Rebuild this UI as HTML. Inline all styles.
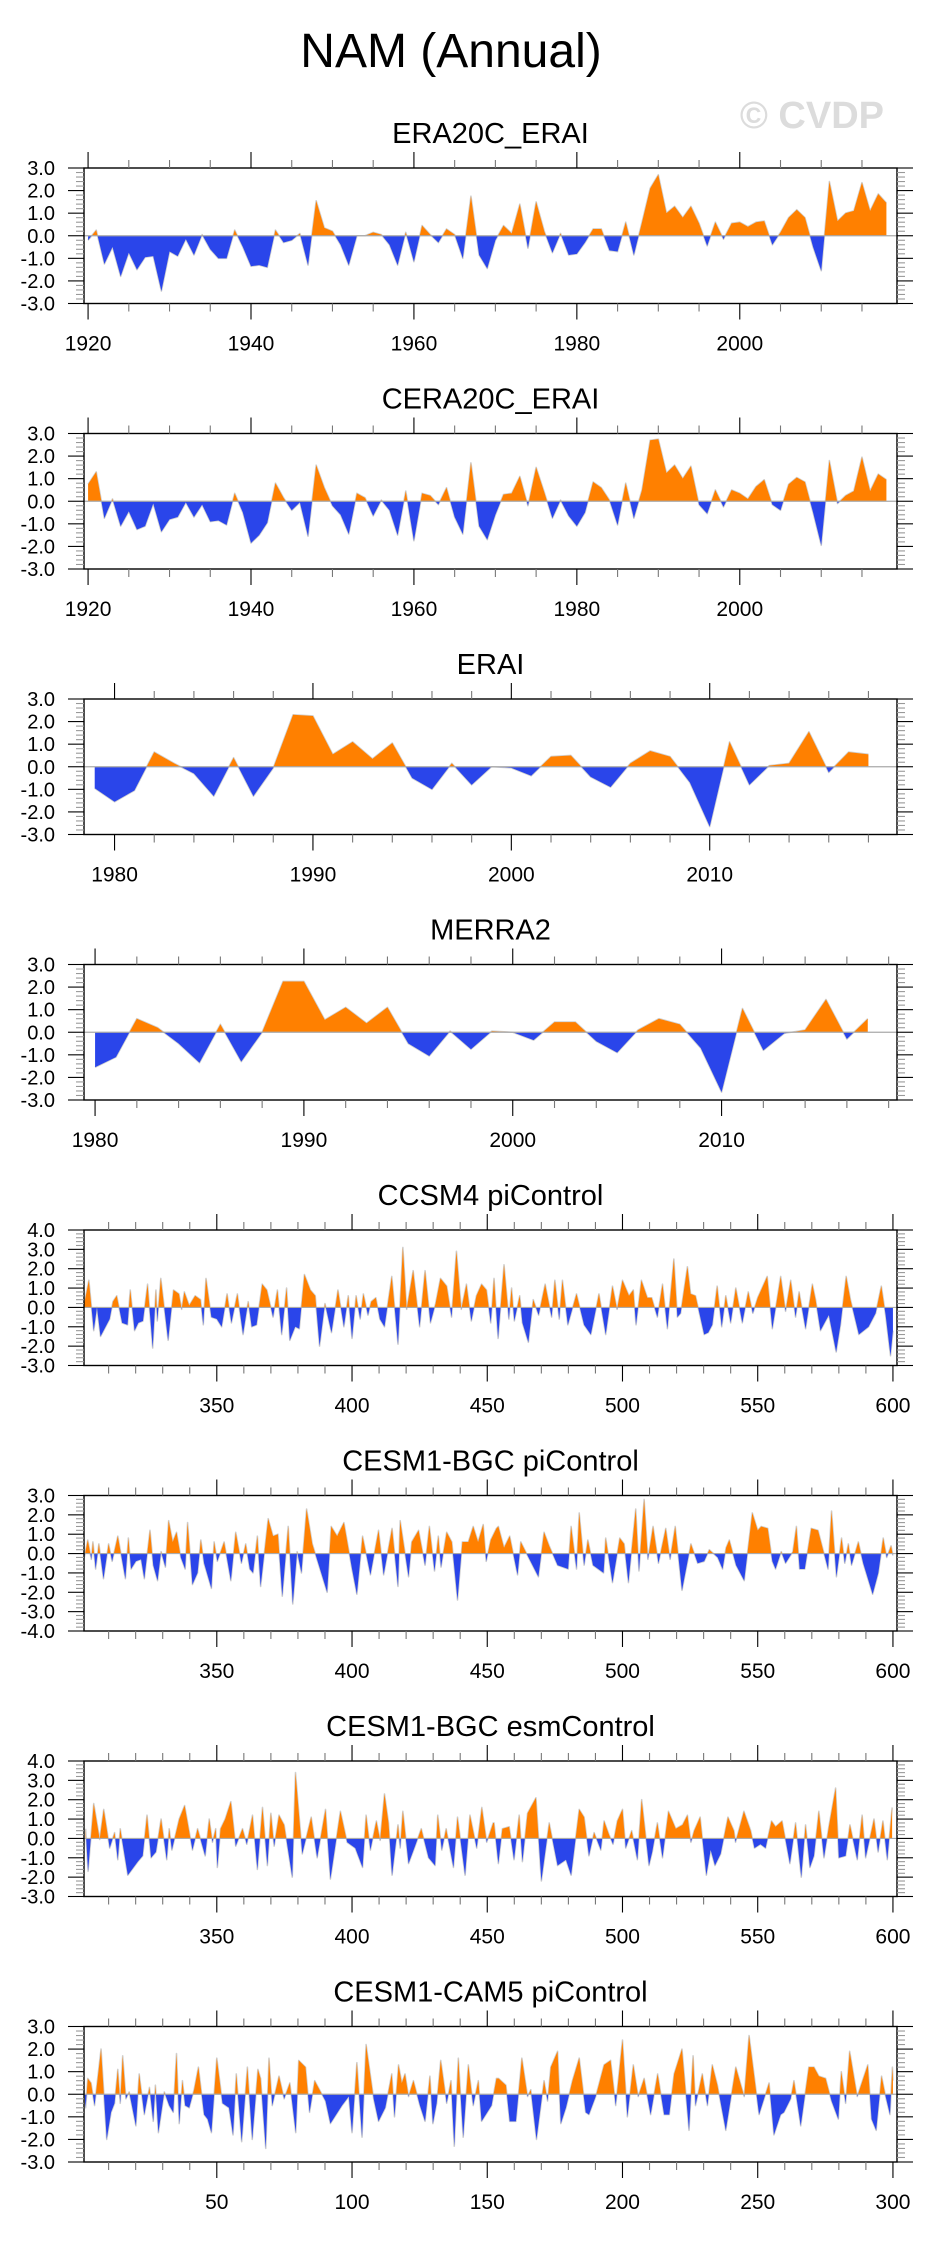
<!DOCTYPE html>
<html><head><meta charset="utf-8"><title>NAM (Annual)</title>
<style>
html,body{margin:0;padding:0;background:#fff;}
svg{display:block;font-family:"Liberation Sans",Arial,sans-serif;}
</style></head>
<body>
<svg id="chart" width="930" height="2241" viewBox="0 0 930 2241" xmlns="http://www.w3.org/2000/svg">
<text x="451" y="67" font-size="48" text-anchor="middle" fill="#000">NAM (Annual)</text>
<text x="884" y="128" font-size="38" font-weight="bold" text-anchor="end" fill="#dcdcdc">© CVDP</text>
</svg>
<script>
// ---------- data ----------
const era20cStart = 1920;
const era20cValues = [-0.2,0.25,-1.25,-0.5,-1.8,-0.75,-1.5,-0.95,-0.9,-2.45,-0.7,-0.9,-0.15,-0.85,0.05,-0.6,-1.0,-1.0,0.25,-0.5,
 -1.35,-1.3,-1.4,0.25,-0.3,-0.2,0.1,-1.3,1.55,0.35,0.2,-0.4,-1.3,0.0,0.0,0.15,0.05,-0.4,-1.3,0.15,
 -1.15,0.45,0.05,-0.3,0.3,0.05,-1.0,1.75,-0.85,-1.45,-0.2,0.45,0.1,1.4,-0.55,1.5,0.2,-0.75,0.1,-0.85,
 -0.8,-0.3,0.3,0.3,-0.65,-0.7,0.6,-0.85,0.6,2.1,2.7,1.0,1.3,0.8,1.3,0.55,-0.45,0.6,-0.15,0.55,
 0.6,0.4,0.6,0.65,-0.4,0.15,0.8,1.15,0.8,-0.5,-1.55,2.4,0.65,1.0,1.1,2.35,1.1,1.85,1.45];
const cera20cStart = 1920;
const cera20cValues = [0.75,1.3,-0.75,0.1,-1.1,-0.45,-1.25,-1.1,-0.1,-1.35,-0.8,-0.7,-0.05,-0.7,-0.15,-0.9,-0.85,-1.05,0.35,-0.5,
 -1.85,-1.5,-0.95,0.8,0.15,-0.4,-0.05,-1.55,1.6,0.6,-0.2,-0.6,-1.45,0.35,0.15,-0.65,0.05,-0.4,-1.5,0.45,
 -1.75,0.35,0.25,-0.15,0.6,-0.7,-1.45,1.7,-1.1,-1.7,-0.6,0.3,0.35,1.1,-0.2,1.5,0.4,-0.75,0.05,-0.65,
 -1.1,-0.5,0.85,0.6,0.05,-1.05,0.8,-0.75,0.5,2.7,2.75,1.25,1.6,1.0,1.55,-0.15,-0.55,0.5,-0.25,0.5,
 0.35,0.1,0.65,0.95,-0.15,-0.4,0.75,1.05,0.85,-0.5,-1.95,1.8,-0.1,0.25,0.45,1.95,0.45,1.2,0.95];
const eraiStart = 1979;
const eraiValues = [-0.95,-1.55,-1.05,0.65,0.15,-0.3,-1.3,0.4,-1.3,-0.05,2.3,2.25,0.55,1.1,0.35,1.05,-0.5,-1.0,0.15,-0.8,
 0.0,-0.05,-0.4,0.45,0.5,-0.45,-0.9,0.15,0.7,0.45,-0.7,-2.65,1.1,-0.8,0.05,0.15,1.55,-0.25,0.65,0.55];
const merra2Start = 1980;
const merra2Values = [-1.55,-1.1,0.6,0.2,-0.5,-1.35,0.35,-1.3,0.0,2.25,2.25,0.55,1.1,0.4,1.1,-0.5,-1.05,0.05,-0.75,0.05,
 0.0,-0.35,0.45,0.45,-0.4,-0.9,0.1,0.6,0.35,-0.7,-2.65,1.05,-0.8,-0.05,0.1,1.45,-0.3,0.6];

const ccsm4Years = [301,302.7,304.5,305.7,307,310.4,311.6,313,315,317,318,319.6,321,322.7,324.4,326.3,327.5,328,329.3,332,334,336,337,338,339.8,342,344,345,346,348,350,351.8,353.8,355.4,357.6,359.7,361.6,362.9,364.7,366.8,368.5,370.8,372.4,374,375.8,377,379,380.5,382.4,384.6,386.4,388,390,392.4,394.8,397,398.6,400,401.5,403,404.2,405.9,407.1,408.8,410.3,412,414.7,417,418.8,420.2,422.6,425,427,429,430.9,432.7,435,436.8,438.6,440.4,442.3,444.1,446,447.9,449.7,451.3,452.5,454,456.2,458,459,460,462,463,465.2,467,469,471.4,473.8,475,476.6,477.8,479.8,483,485.8,488.3,491.3,493.8,496.3,498,500,502.4,504,505,507,509.2,510.8,512.9,514.8,516.6,519,520.3,521.5,524,525.2,527,530.2,531.7,533.2,535,536.7,538.2,540,541.9,544.3,546.5,548.2,550,553.5,555.4,558.5,560.3,562.2,564,565.3,567.7,570.2,571.4,573.2,575.1,576.3,579,580.6,582.7,584.3,587.4,591,593.6,595.7,597.3,599.1,600];
const ccsm4Values = [0.2,1.4,-1.2,0,-1.5,-0.6,0.3,0.6,-0.8,-0.9,0.9,-1.2,-0.8,-0.7,1.2,-2.1,0.9,-0.7,1.5,-1.7,0.9,0.7,-0.1,0.8,0.1,0.6,0.4,-0.9,1.5,-0.5,-0.6,-1.0,0.7,-0.8,0.7,-1.4,0.3,-1.0,-0.9,1.2,0.9,-0.5,0.9,-1.4,1.0,-1.7,-1.0,-1.1,1.7,0.9,0.6,-2.0,0.2,-1.3,0.9,-1.0,0.6,-1.6,0.6,-0.6,0.7,-0.4,0.3,0.5,-0.6,-1.0,1.6,-1.9,3.1,-0.1,1.9,-1.0,1.9,-0.8,0.2,1.5,1.1,-0.5,2.9,-0.1,1.2,-0.7,0.6,1.2,0.9,-0.8,1.5,-1.6,2.2,-0.6,1.0,-0.7,0.6,-0.8,-1.8,0.4,-0.4,1.2,-0.5,1.4,-0.6,1.4,-0.9,0.7,-0.9,-1.4,0.7,-1.4,1.1,-0.1,1.4,0.6,0.9,-0.9,1.4,0.5,0.5,-0.5,1.2,-1.1,2.5,-0.5,-0.3,2.1,0.7,0.6,-1.4,-1.3,-0.9,1.1,-1.0,0.6,-0.8,1.0,-0.8,0.8,-0.3,0.5,1.6,-1.1,1.6,-0.2,1.4,-0.5,0.8,-1.1,1.2,0.4,-1.2,-0.7,-0.4,-2.3,-0.9,1.6,0.4,-1.4,-1.0,-0.3,1.1,-0.4,-2.5,-1.2];

const bgcPiYears = [301,302.3,303.6,304.2,305.2,306.4,308.1,310,311.3,313.4,316.2,317.3,318.3,320.1,322,323.2,325.3,326.5,328.1,329.4,331,332.2,333.7,335.1,336.7,338.3,339.2,341,342.9,344.1,345.3,348,349,350.2,352.7,355.2,357,359.1,360.7,362.2,363.4,365,366.2,369,370.8,372.6,374.2,376.4,378.1,379.7,381.3,383.2,385.3,390.8,392.3,394.5,397,400,401.8,403.9,406.8,409.8,411.7,414.8,417,417.8,420.9,422.1,424.6,427,428.6,430.5,431.9,432.9,435,436.9,439,440.8,443,444.8,446.6,448.5,449.6,451.3,453.4,454.1,456.2,458.3,461.2,462.4,464.9,468.9,471,472.9,476,479.9,481,483,484,485.8,487.2,489.1,493,493.8,496.3,499,500.6,502.2,504.9,506.1,508,509.4,511.3,513.3,516,517.6,519.5,522,525.3,527.8,530.2,532.1,535.2,537,538.3,539.5,542,545,548,550,551.3,553.7,555.4,556.6,558.7,560.3,563,564.3,565.5,567.4,569.8,572.3,576,577.3,579.1,581,582.2,583.5,584.7,587.2,589,592.5,594.6,596.4,597.7,599.3,600];
const bgcPiValues = [-0.2,0.7,-0.3,0.6,-0.8,0.5,-1.3,0.5,-0.4,0.9,-1.3,0.8,-0.8,-0.4,-0.3,-1.3,1.2,-0.6,-1.4,0.1,-0.7,1.7,0.6,1.1,-0.2,-0.8,1.6,-1.6,-1.0,0.7,-0.5,-1.8,0.6,-0.4,0.6,-1.4,1.1,-0.5,0.5,-0.8,-1.0,0.9,-1.7,1.8,0.9,1.0,-2.2,1.4,-2.6,0.1,-1.0,2.3,0.5,-2.0,1.4,0.9,1.6,-0.8,-2.1,0.9,-1.1,1.2,-1.1,1.3,-1.7,1.7,-1.2,0.6,1.2,-0.6,1.4,-0.9,0.9,-0.7,1.1,0.6,-2.4,0.6,0.6,1.4,0.6,1.5,-0.4,0.7,1.3,1.4,0.3,0.9,-1.1,0.6,-0.1,-1.2,1.1,0.4,-0.6,-0.8,1.4,-0.8,2.1,-0.6,0.7,-0.6,-1.0,0.8,-1.5,0.8,0.5,-1.5,2.3,-0.9,2.8,-0.3,1.4,-0.5,1.3,-0.3,1.4,-1.9,0.5,-0.5,-0.4,0.2,-0.2,-0.8,0.3,0.7,-0.6,-1.4,2.1,1.2,1.4,1.3,-0.4,-0.8,0.1,-0.5,0.1,1.4,-0.8,-0.8,1.3,1.2,-0.8,2.2,-1.2,0.8,-0.5,0.5,-0.6,0.6,-0.5,-2.1,-1.0,0.8,-0.2,0.4,-0.1];

const bgcEsmYears = [301.5,302.4,304.5,306.7,308.2,310.4,312.2,313.4,314.3,317.1,320.8,322.6,324.2,325.7,327.5,329.4,331.5,332.4,333.4,336.1,338.1,341,342.9,345.7,347.2,348.4,349.6,350.2,351.4,353.1,355.2,357,359.5,361.1,363.2,365,366.9,368.7,370,371.2,373,374.9,377.9,379.1,381.6,384.9,387.1,390.2,392,395.7,398.2,401.2,403.9,405.2,406.8,409,410.4,412,413.5,414.8,417,417.8,418.8,420.9,423.3,425.6,428.3,430.7,431.7,433.2,434.8,437.5,439,441.8,443.6,446.1,448,449.8,452.2,452.5,454.1,455.6,458.1,459.9,461.8,463,464.9,468,470,472.9,476,479.1,481,484,485.8,487.6,489.5,492,493.2,495,496.5,498.1,500,501.2,503.4,505.5,507.1,509.8,511,512.9,514.8,517,519.7,522.2,524,525.3,526.5,528.7,531,532.6,534.2,536.3,539,541.2,541.8,544.9,547.4,548.8,551,552.9,555.1,556.6,559,561.9,564,566.1,567.7,569.3,570.8,572.6,574.5,576.3,578.8,580,582.5,584.1,586.8,588.6,589.9,593,594.5,596.3,597.9,599.7];
const bgcEsmValues = [0.5,-1.7,1.8,-0.05,1.5,-0.5,0.3,-1.1,0.5,-1.9,-1.2,-0.9,1.2,-1.0,-0.7,1.0,-1.1,0.5,-0.6,1.0,1.7,-0.6,0.5,-0.9,1.0,-0.2,0.5,-1.5,0.5,1.0,1.9,-0.4,0.5,-0.3,1.2,-1.6,1.6,-1.4,1.3,-0.4,1.2,0.7,-2.0,3.4,-0.8,1.1,-1.0,1.5,-2.1,1.4,-0.2,-0.5,-1.5,1.2,-0.6,0.9,-0.1,2.3,0.8,-1.9,0.7,-0.5,1.4,-1.3,-0.4,0.5,-1.0,-1.4,1.2,-0.6,0.5,-1.5,1.1,-1.9,1.2,-0.5,1.6,-0.2,0.8,0.8,-1.3,0.5,0.6,-1.1,1.2,-1.2,1.3,2.1,-2.2,0.8,-1.4,-1.1,-1.9,1.5,1.1,-0.9,0.3,-0.6,0.9,0.2,-0.3,0.9,1.5,-0.5,0.4,-1.1,2.0,-1.4,-0.7,0.8,-1.0,1.4,0.5,0.7,1.2,-0.2,0.4,1.1,-1.9,-0.6,-1.4,-0.8,1.1,0.4,-0.2,1.4,0.4,-0.5,-0.3,-0.5,0.9,0.6,0.9,-1.3,0.8,-2.0,0.7,-1.5,-0.9,1.4,-1.0,0.6,2.6,-1.0,-0.9,0.7,-1.1,1.2,-1.0,1.0,-0.7,0.9,-1.1,1.6];

const cam5Years = [1,1.5,2.3,3.5,4.8,7.2,9.3,10.9,12.2,13.4,14.3,15.2,16.4,17.6,20.1,21.3,23.2,25.1,26.5,27.3,28.4,30.6,32.4,33.9,35.1,36.1,37.3,38.3,39.8,41.6,43.2,45.3,46.6,48,50,52.1,54.5,56,57.2,59.2,61.3,63.1,65.2,66.2,68.1,69.3,70.5,73,74.9,77,79.2,80.3,82.8,84.3,86.2,90.2,92,96.3,98.8,100,101.8,103.7,105.2,108,109.8,112.3,114.7,115.7,117.2,118.4,119.6,120.9,122.7,125.1,127,128.8,129.9,131.3,132.8,135,136.6,137.8,139.3,141.1,143,144.8,146.7,147.9,151.6,153.4,154.2,156.9,158.3,160.6,162.8,164.9,166.1,168.2,171,172.3,173.5,176,177.2,179.1,181.5,184,186.4,187.6,190.1,193.2,195.6,197.5,200,201.8,204,205.8,208,210.4,213,215.4,217.3,219.1,222,224.6,226.1,227,229.5,231.4,233.2,235.1,238.2,241.9,245,246.8,250.5,254.2,256,258.5,259.7,262.2,263.4,265.9,268.9,270.8,272.6,275.1,277.3,279.8,280.9,282.5,284,286.8,290.7,292.1,293.8,295.8,297.3,298.9,299.8,300];
const cam5Values = [0.2,-0.6,0.7,0.5,-0.5,2.0,-2.0,-0.8,-0.4,1.1,-0.4,1.7,-0.2,0.1,-1.4,0.9,-0.9,0.3,-1.2,0.4,-1.7,0.1,-0.5,-0.8,1.8,-1.3,0.6,-0.5,-0.6,0.2,1.2,-0.9,-1.1,-1.7,1.6,-0.4,-0.6,-1.8,0.9,-2.1,1.2,-2.0,1.1,0.7,-2.4,1.6,-0.5,0.8,-0.2,0.5,-1.7,1.5,1.2,-0.8,0.6,-0.3,-1.3,-0.5,-0.1,-1.7,1.4,-1.9,2.2,-0.2,-1.2,-0.6,0.9,-1.0,1.3,0.5,0.9,-0.1,0.6,-0.5,-1.2,0.8,-1.3,-0.4,1.5,-0.4,0.6,-2.3,1.6,-1.9,1.3,-0.5,0.6,-1.2,-0.5,0.7,0.7,0.4,-1.2,-1.2,1.6,-0.1,0.2,-2.0,0.6,-0.3,1.2,1.9,-1.3,-0.6,0.6,1.6,-0.8,-0.9,-0.1,1.3,1.5,-0.5,2.4,-1.0,1.3,-0.1,0.7,-0.9,0.9,-0.9,-0.9,0.9,2.0,-1.6,1.7,-0.5,0.9,-0.5,1.3,0.4,-1.6,1.2,-0.1,2.6,-0.9,0.5,-1.8,-0.9,-0.8,-0.2,0.6,-1.4,1.2,1.2,0.8,0.7,-0.3,-1.1,1.0,-0.4,1.9,-0.1,1.3,-1.1,-1.6,0.8,-0.1,-0.9,1.2,0.6];

const yTicks33 = [-3,-2,-1,0,1,2,3];
const yTicks34 = [-3,-2,-1,0,1,2,3,4];
const yTicks43 = [-4,-3,-2,-1,0,1,2,3];
const xTicksLong = [1920,1940,1960,1980,2000];
const xTicksErai = [1980,1990,2000,2010];
const xTicksModel = [350,400,450,500,550,600];
const xTicksCam5 = [50,100,150,200,250,300];

function seq(start,n){const a=[];for(let i=0;i<n;i++)a.push(start+i);return a;}

const panels = [
 {id:'era20c-erai',title:'ERA20C_ERAI',top:168,x0:1919.5,x1:2019.3,ymin:-3,ymax:3,yt:yTicks33,xt:xTicksLong,minor:5,xs:seq(era20cStart,era20cValues.length),ys:era20cValues},
 {id:'cera20c-erai',title:'CERA20C_ERAI',top:433.5,x0:1919.5,x1:2019.3,ymin:-3,ymax:3,yt:yTicks33,xt:xTicksLong,minor:5,xs:seq(cera20cStart,cera20cValues.length),ys:cera20cValues},
 {id:'erai',title:'ERAI',top:699,x0:1978.46,x1:2019.44,ymin:-3,ymax:3,yt:yTicks33,xt:xTicksErai,minor:2,xs:seq(eraiStart,eraiValues.length),ys:eraiValues},
 {id:'merra2',title:'MERRA2',top:964.5,x0:1979.47,x1:2018.4,ymin:-3,ymax:3,yt:yTicks33,xt:xTicksErai,minor:2,xs:seq(merra2Start,merra2Values.length),ys:merra2Values},
 {id:'ccsm4-picontrol',title:'CCSM4 piControl',top:1230,x0:300.9,x1:601.5,ymin:-3,ymax:4,yt:yTicks34,xt:xTicksModel,minor:10,xs:ccsm4Years,ys:ccsm4Values},
 {id:'cesm1-bgc-picontrol',title:'CESM1-BGC piControl',top:1495.5,x0:300.9,x1:601.5,ymin:-4,ymax:3,yt:yTicks43,xt:xTicksModel,minor:10,xs:bgcPiYears,ys:bgcPiValues},
 {id:'cesm1-bgc-esmcontrol',title:'CESM1-BGC esmControl',top:1761,x0:300.9,x1:601.5,ymin:-3,ymax:4,yt:yTicks34,xt:xTicksModel,minor:10,xs:bgcEsmYears,ys:bgcEsmValues},
 {id:'cesm1-cam5-picontrol',title:'CESM1-CAM5 piControl',top:2026.5,x0:0.9,x1:301.5,ymin:-3,ymax:3,yt:yTicks33,xt:xTicksCam5,minor:10,xs:cam5Years,ys:cam5Values}
];

const NS='http://www.w3.org/2000/svg';
const svg=document.getElementById('chart');
const L=84,R=897,H=135.5;
function mk(tag,attrs,parent){const e=document.createElementNS(NS,tag);for(const k in attrs)e.setAttribute(k,attrs[k]);(parent||svg).appendChild(e);return e;}

panels.forEach((p,pi)=>{
  const top=p.top,bot=top+H;
  const xs=v=>L+(v-p.x0)/(p.x1-p.x0)*(R-L);
  const ys=v=>bot-(v-p.ymin)/(p.ymax-p.ymin)*H;
  const g=mk('g',{});
  
  
  const t=mk('text',{x:(L+R)/2,y:top-25,'font-size':29,'text-anchor':'middle',fill:'#000'},g);
  
  
  t.textContent=p.title;
  const z=ys(0);
  const defs=mk('defs',{},g);
  const cu=mk('clipPath',{id:'cu'+pi},defs);mk('rect',{x:L,y:top,width:R-L,height:z-top},cu);
  const cd=mk('clipPath',{id:'cd'+pi},defs);mk('rect',{x:L,y:z,width:R-L,height:bot-z},cd);
  let d='M'+xs(p.xs[0]).toFixed(2)+','+z.toFixed(2);
  let line='';
  for(let i=0;i<p.xs.length;i++){
    const pt=xs(p.xs[i]).toFixed(2)+','+ys(p.ys[i]).toFixed(2);
    d+=' L'+pt; line+=(i?' L':'M')+pt;
  }
  d+=' L'+xs(p.xs[p.xs.length-1]).toFixed(2)+','+z.toFixed(2)+' Z';
  const halo=mk('path',{d:line,fill:'none',stroke:'#d0d0d0','stroke-width':1.6,'stroke-linejoin':'round'},g);
  
  
  const pos=mk('path',{d:d,fill:'#ff8000','clip-path':'url(#cu'+pi+')'},g);
  
  
  const neg=mk('path',{d:d,fill:'#2a45ea','clip-path':'url(#cd'+pi+')'},g);
  
  
  const zl=mk('line',{x1:L,x2:R,y1:z,y2:z,stroke:'#aaaaaa','stroke-width':1.2},g);
  
  
  const fr=mk('rect',{x:L,y:top,width:R-L,height:H,fill:'none',stroke:'#000','stroke-width':1.4},g);
  
  
  // y ticks
  for(let v=p.ymin;v<=p.ymax+1e-6;v+=0.2){
    const vv=Math.round(v*10)/10;
    const y=ys(vv);
    const major=Math.abs(vv-Math.round(vv))<1e-6;
    const len=major?16:8, col=major?'#000':'#999';
    mk('line',{x1:L-len,x2:L,y1:y,y2:y,stroke:col,'stroke-width':1.1},g);
    mk('line',{x1:R,x2:R+len,y1:y,y2:y,stroke:col,'stroke-width':1.1},g);
  }
  p.yt.forEach(v=>{
    const tl=mk('text',{x:55,y:ys(v)+7,'font-size':20,'text-anchor':'end',fill:'#000'},g);
    
    
    tl.textContent=v.toFixed(1);
  });
  // x ticks
  for(let v=Math.ceil(p.x0/p.minor)*p.minor;v<=p.x1;v+=p.minor){
    const x=xs(v);
    const major=p.xt.indexOf(v)>=0;
    const len=major?16:8, col=major?'#000':'#777';
    mk('line',{x1:x,x2:x,y1:top-len,y2:top,stroke:col,'stroke-width':1.1},g);
    mk('line',{x1:x,x2:x,y1:bot,y2:bot+len,stroke:col,'stroke-width':1.1},g);
  }
  p.xt.forEach(v=>{
    const tl=mk('text',{x:xs(v),y:bot+47,'font-size':21,'text-anchor':'middle',fill:'#000'},g);
    
    
    tl.textContent=String(v);
  });
});
</script>
</body></html>
